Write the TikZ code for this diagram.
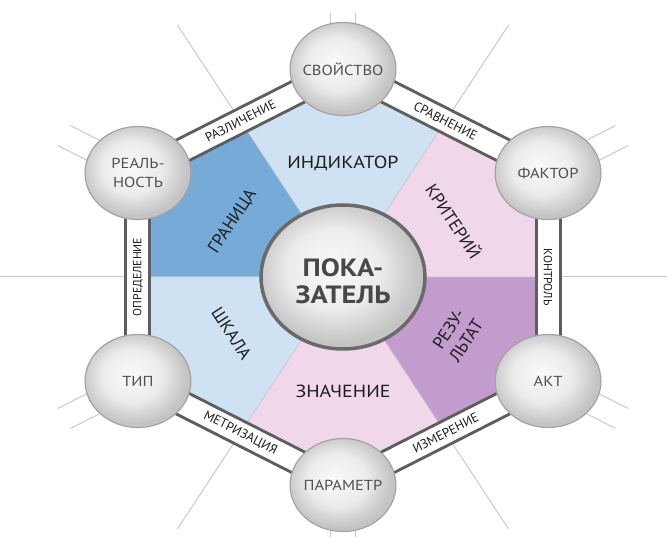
\documentclass[tikz,border=0pt]{standalone}
\usepackage{fontspec}
\setmainfont{PT Sans}
\definecolor{lblue}{HTML}{CFE2F3}
\definecolor{mblue}{HTML}{76ABD7}
\definecolor{lpink}{HTML}{F0D7EA}
\definecolor{purp}{HTML}{C19CCC}
\definecolor{bandgray}{HTML}{5E5E5E}
\definecolor{raygray}{HTML}{C9C9C9}
\definecolor{sphA}{HTML}{F9F9F9}
\definecolor{sphB}{HTML}{ECECEC}
\definecolor{sphC}{HTML}{C4C4C4}
\definecolor{txtgray}{HTML}{505050}
\definecolor{hubtxt}{HTML}{484848}
\definecolor{ringgray}{HTML}{6A6A6A}
\definecolor{edgegray}{HTML}{A3A3A3}
\definecolor{labtxt}{HTML}{1E1E1E}
\pgfdeclareradialshading{sphere}{\pgfpoint{-4bp}{4bp}}{color(0bp)=(sphA); color(14bp)=(sphB); color(25bp)=(sphC); color(50bp)=(sphC)}
\tikzset{
  ray/.style={draw=raygray, line width=1pt},
  sector/.style={draw=gray!45, line width=0.5pt},
  bandout/.style={draw=bandgray, line width=27pt},
  bandin/.style={draw=white, line width=21pt},
  bandtext/.style={font=\fontsize{13}{15}\selectfont, text=labtxt, inner sep=0pt},
  bandvtext/.style={font=\fontsize{11.7}{14}\selectfont, text=labtxt, inner sep=0pt},
  sectext/.style={font=\fontsize{17.5}{21}\selectfont, text=labtxt, align=center, inner sep=0pt},
  sechtext/.style={sectext, transform shape},
  vert/.style={circle, minimum size=93pt, inner sep=0pt, shade, shading=sphere, draw=edgegray, line width=1.2pt, font=\fontsize{14.5}{19}\selectfont, text=txtgray, align=center, transform shape},
  hub/.style={circle, minimum size=144pt, inner sep=0pt, shade, shading=sphere, draw=ringgray, line width=3.5pt, transform shape},
  hubtext/.style={font=\fontsize{25}{27}\selectfont\bfseries, text=hubtxt, align=center, inner sep=0pt, transform shape},
}
\begin{document}
\begin{tikzpicture}[x=1pt,y=1pt]
\useasboundingbox (0,0) rectangle (667,536);
\begin{scope}[shift={(343,259)}, xscale=1.138]
  % geometry
  \coordinate (O) at (0,0);
  \coordinate (V1) at (90:208);
  \coordinate (V2) at (150:208);
  \coordinate (V3) at (210:208);
  \coordinate (V4) at (270:208);
  \coordinate (V5) at (330:208);
  \coordinate (V6) at (30:208);
  \coordinate (M12) at (120:180.13);
  \coordinate (M23) at (180:180.13);
  \coordinate (M34) at (240:180.13);
  \coordinate (M45) at (300:180.13);
  \coordinate (M56) at (0:180.13);
  \coordinate (M61) at (60:180.13);
  \coordinate (R12) at (120:291);
  \coordinate (R23) at (180:330);
  \coordinate (R34) at (240:291);
  \coordinate (R45) at (300:291);
  \coordinate (R56) at (0:330);
  \coordinate (R61) at (60:291);
  % background rays
  \foreach \m in {12,23,34,45,56,61} \draw[ray] (O) -- (R\m);
  \foreach \a/\L in {90/56,150/75,210/75,270/60,330/75,30/75} {
    \begin{scope}[rotate=\a]
      \draw[ray] (208,11.4) -- (208+\L,11.4);
      \draw[ray] (208,-11.4) -- (208+\L,-11.4);
    \end{scope}
  }
  % sectors
  \path[sector, fill=lblue] (O) -- (M12) -- (V1) -- (M61) -- cycle;
  \path[sector, fill=mblue] (O) -- (M23) -- (V2) -- (M12) -- cycle;
  \path[sector, fill=lblue] (O) -- (M34) -- (V3) -- (M23) -- cycle;
  \path[sector, fill=lpink] (O) -- (M45) -- (V4) -- (M34) -- cycle;
  \path[sector, fill=purp]  (O) -- (M56) -- (V5) -- (M45) -- cycle;
  \path[sector, fill=lpink] (O) -- (M61) -- (V6) -- (M56) -- cycle;
  % bands
  \foreach \a/\b in {1/2,2/3,3/4,4/5,5/6,6/1} {
    \draw[bandout] (V\a) -- (V\b);
    \draw[bandin] (V\a) -- (V\b);
  }
  % band labels
  \node[bandtext, rotate=26.9]   (b12) at (M12) {РАЗЛИЧЕНИЕ};
  \node[bandtext, rotate=-26.9]  (b61) at (M61) {СРАВНЕНИЕ};
  \node[bandvtext, rotate=-90]   (b56) at (M56) {КОНТРОЛЬ};
  \node[bandtext, rotate=26.9]   (b45) at (M45) {ИЗМЕРЕНИЕ};
  \node[bandtext, rotate=-26.9]  (b34) at (M34) {МЕТРИЗАЦИЯ};
  \node[bandvtext, rotate=90]    (b23) at (M23) {ОПРЕДЕЛЕНИЕ};
  % sector labels
  \node[sechtext] (s1) at (90:114) {ИНДИКАТОР};
  \node[sectext, rotate=56.7]  (s2) at (150:112) {ГРАНИЦА};
  \node[sectext, rotate=-56.7] (s3) at (210:113) {ШКАЛА};
  \node[sechtext] (s4) at (270:114) {ЗНАЧЕНИЕ};
  \node[sectext, rotate=56.7]  (s5) at (330:116) {РЕЗУ-\\ЛЬТАТ};
  \node[sectext, rotate=-56.7] (s6) at (30:113) {КРИТЕРИЙ};
  % vertex circles
  \node[vert] (n1) at (V1) {СВОЙСТВО};
  \node[vert] (n2) at (V2) {РЕАЛЬ-\\НОСТЬ};
  \node[vert] (n3) at (V3) {ТИП};
  \node[vert] (n4) at (V4) {ПАРАМЕТР};
  \node[vert] (n5) at (V5) {АКТ};
  \node[vert] (n6) at (V6) {ФАКТОР};
  % hub
  \node[hub] (c) at (O) {};
  \node[hubtext] (ct) at (0,-4.5) {ПОКА-\\ЗАТЕЛЬ};
\end{scope}
\end{tikzpicture}
\end{document}
